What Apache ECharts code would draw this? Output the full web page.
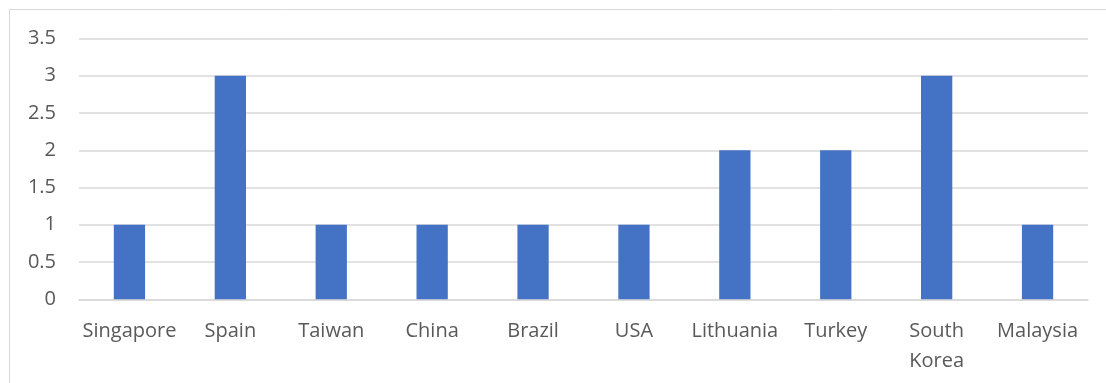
<!DOCTYPE html>
<html>
<head>
<meta charset="utf-8">
<script src="https://cdn.jsdelivr.net/npm/echarts@6/dist/echarts.min.js"></script>
<style>
  html, body { margin: 0; padding: 0; background: #ffffff; }
  #chart { width: 1106px; height: 383px; }
</style>
</head>
<body>
<div id="chart"></div>
<script>
// Countries and their counts
const categories = ['Singapore', 'Spain', 'Taiwan', 'China', 'Brazil', 'USA', 'Lithuania', 'Turkey', 'South Korea', 'Malaysia'];
const counts = [1, 3, 1, 1, 1, 1, 2, 2, 3, 1];

const textColor = '#595959';
const gridColor = '#d9d9d9';
const fontFamily = '"Open Sans", "Noto Sans", sans-serif';

const chart = echarts.init(document.getElementById('chart'), null, { renderer: 'canvas' });

chart.setOption({
  animation: false,
  backgroundColor: '#ffffff',
  graphic: [{
    type: 'rect',
    shape: { x: 9.5, y: 9.5, width: 1200, height: 500 },
    style: { fill: 'none', stroke: gridColor, lineWidth: 1 },
    silent: true
  }],
  grid: { left: 79, right: 18, top: 38.5, bottom: 83.7, containLabel: false },
  xAxis: {
    type: 'category',
    data: categories,
    axisLine: { show: true, lineStyle: { color: gridColor, width: 1.5 } },
    axisTick: { show: false },
    axisLabel: {
      color: textColor,
      fontFamily: fontFamily,
      fontSize: 20,
      lineHeight: 30,
      margin: 17,
      interval: 0,
      formatter: v => v.replace(' ', '\n')
    }
  },
  yAxis: {
    type: 'value',
    min: 0,
    max: 3.5,
    interval: 0.5,
    axisLine: { show: false },
    axisTick: { show: false },
    splitLine: { show: true, lineStyle: { color: gridColor, width: 1.5 } },
    axisLabel: {
      color: textColor,
      fontFamily: fontFamily,
      fontSize: 20,
      margin: 23
    }
  },
  series: [{
    type: 'bar',
    data: counts,
    barWidth: '31%',
    itemStyle: { color: '#4472C4' }
  }]
});
</script>
</body>
</html>
